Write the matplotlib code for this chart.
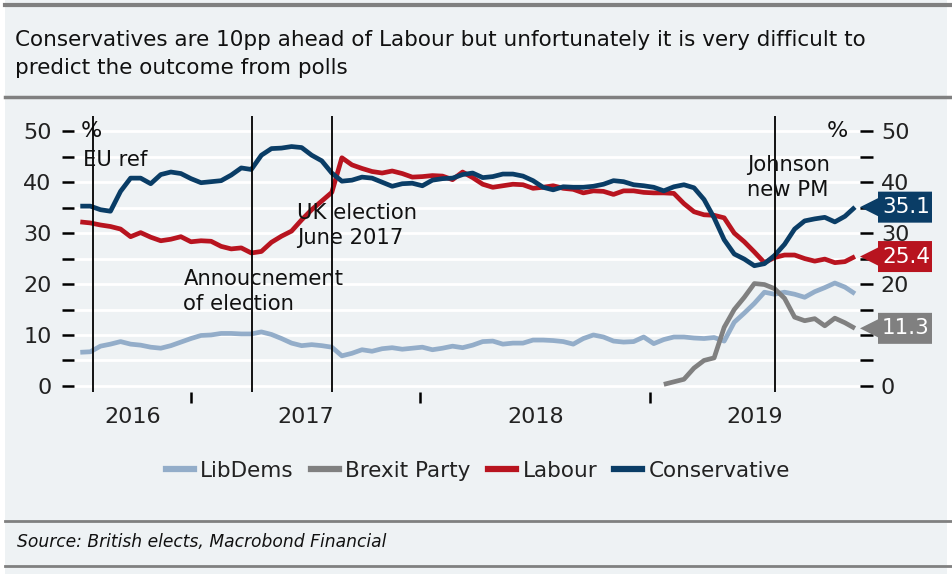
import numpy as np
import pandas as pd
import matplotlib
matplotlib.use("Agg")
import matplotlib.pyplot as plt
from matplotlib.patches import Polygon, Rectangle
from matplotlib.lines import Line2D

# ---------------- data ----------------
dates = pd.date_range("2016-07-09", periods=78, freq="16D")

conservative = [35.3, 35.3, 34.6, 34.3, 38.2, 40.8, 40.8, 39.7, 41.5, 42.0,
                41.7, 40.7, 39.9, 40.1, 40.3, 41.4, 42.8, 42.5, 45.3, 46.6,
                46.7, 47.0, 46.8, 45.3, 44.2, 41.8, 40.2, 40.4, 41.0, 40.8,
                40.0, 39.2, 39.7, 39.8, 39.3, 40.4, 40.7, 40.8, 41.5, 41.8,
                40.9, 41.1, 41.6, 41.6, 41.2, 40.3, 39.0, 38.5, 39.1, 39.0,
                39.0, 39.2, 39.6, 40.3, 40.1, 39.5, 39.3, 39.0, 38.3, 39.1,
                39.5, 38.9, 36.6, 33.0, 28.7, 25.9, 24.9, 23.6, 24.0, 25.6,
                27.8, 30.8, 32.4, 32.8, 33.1, 32.2, 33.3, 35.1]

labour = [32.2, 32.0, 31.6, 31.3, 30.8, 29.3, 30.1, 29.2, 28.5, 28.8,
          29.3, 28.3, 28.5, 28.4, 27.4, 26.9, 27.1, 26.1, 26.4, 28.2,
          29.4, 30.4, 32.6, 34.6, 36.3, 38.0, 44.8, 43.4, 42.7, 42.1,
          41.8, 42.2, 41.7, 41.0, 41.1, 41.3, 41.2, 40.5, 42.0, 40.9,
          39.6, 39.0, 39.3, 39.6, 39.5, 38.8, 39.0, 39.3, 38.8, 38.6,
          37.9, 38.3, 38.2, 37.6, 38.3, 38.3, 38.0, 37.9, 37.9, 37.8,
          35.8, 34.2, 33.6, 33.5, 33.0, 30.0, 28.3, 26.3, 24.2, 25.2,
          25.7, 25.7, 25.0, 24.5, 24.9, 24.2, 24.4, 25.4]

libdems = [6.6, 6.7, 7.8, 8.2, 8.7, 8.2, 8.0, 7.6, 7.4, 7.9,
           8.6, 9.3, 9.9, 10.0, 10.3, 10.3, 10.2, 10.2, 10.6, 10.1,
           9.3, 8.4, 7.9, 8.1, 7.9, 7.6, 5.9, 6.4, 7.1, 6.8,
           7.3, 7.5, 7.2, 7.4, 7.6, 7.1, 7.4, 7.8, 7.5, 8.0,
           8.7, 8.8, 8.2, 8.4, 8.4, 9.0, 9.0, 8.9, 8.7, 8.2,
           9.3, 10.0, 9.6, 8.8, 8.6, 8.7, 9.6, 8.3, 9.1, 9.6,
           9.6, 9.4, 9.3, 9.5, 8.8, 12.5, 14.3, 16.2, 18.4, 18.0,
           18.4, 18.0, 17.4, 18.5, 19.3, 20.2, 19.4, 18.1]

brexit = [np.nan] * 58 + [0.3, 0.8, 1.3, 3.5, 5.0, 5.5, 11.5, 15.0, 17.4, 20.1,
                          19.9, 19.1, 17.2, 13.5, 12.8, 13.2, 11.8, 13.3, 12.4, 11.3]

series_names = ["LibDems", "Brexit Party", "Labour", "Conservative"]
series_colors = ["#93adc9", "#808080", "#b8141f", "#0a3d66"]
end_labels = ["35.1", "25.4", "11.3"]

event_dates = ["2016-07-29", "2017-04-08", "2017-08-14", "2019-07-19"]
event_texts = ["EU ref", "Annoucnement\nof election", "UK election\nJune 2017", "Johnson\nnew PM"]
event_text_pos = [("2016-07-14", 44.4), ("2016-12-20", 18.5), ("2017-06-19", 31.5), ("2019-06-04", 41.0)]

year_labels = ["2016", "2017", "2018", "2019"]
left_ticks = [0, 10, 20, 30, 40, 50]
right_ticks = [0, 20, 30, 40, 50]
minor_ticks = [5, 10, 15, 25, 35, 45]

title = ("Conservatives are 10pp ahead of Labour but unfortunately it is very difficult to\n"
         "predict the outcome from polls")
source = "Source: British elects, Macrobond Financial"

# ---------------- style ----------------
BG = "#eef2f4"
W, H = 953, 574
fig = plt.figure(figsize=(W / 100, H / 100), dpi=100, facecolor="white")
plt.rcParams["font.family"] = ["DejaVu Sans"]

fig.patches.append(Rectangle((5 / W, 0), 942 / W, 1, transform=fig.transFigure,
                             facecolor=BG, edgecolor="none", zorder=-10))
for yy, lw in [(5, 3.0), (97, 2.5), (521, 2.0), (566, 2.0)]:
    fig.add_artist(Line2D([5 / W, 1], [1 - yy / H, 1 - yy / H], transform=fig.transFigure,
                          color="#808080", lw=lw))

fig.text(15 / W, 1 - 30 / H, title, ha="left", va="top", fontsize=15.5,
         color="#111111", linespacing=1.5)
fig.text(17 / W, 1 - 542 / H, source, ha="left", va="center", fontsize=12.3,
         style="italic", color="#111111")

left, right, top, bottom = 74, 860, 116, 392
ax = fig.add_axes([left / W, 1 - bottom / H, (right - left) / W, (bottom - top) / H])
ax.set_facecolor(BG)
for s in ax.spines.values():
    s.set_visible(False)

ax.set_ylim(-1.2, 53)
xmin = pd.Timestamp("2016-06-29")
xmax = pd.Timestamp("2019-12-01")
ax.set_xlim(xmin, xmax)

for v in range(0, 51, 5):
    ax.axhline(v, color="white", lw=2, zorder=0)

series = [libdems, brexit, labour, conservative]
for name, vals, col in zip(series_names, series, series_colors):
    ax.plot(dates, vals, color=col, lw=3.4, label=name, zorder=3,
            solid_joinstyle="round", solid_capstyle="butt")

for d in event_dates:
    ax.axvline(pd.Timestamp(d), color="black", lw=1.3, zorder=4)

for (d, yv), t in zip(event_text_pos, event_texts):
    ax.text(pd.Timestamp(d), yv, t, ha="left", va="center", fontsize=15.2,
            color="#111111", linespacing=1.3, zorder=5)

# y axes
ax.set_yticks(left_ticks)
ax.set_yticks(minor_ticks, minor=True)
ax.tick_params(axis="y", which="both", length=9, width=1.8, direction="out",
               labelsize=16, pad=7, colors="black", labelcolor="#222222")
ax2 = ax.twinx()
for s in ax2.spines.values():
    s.set_visible(False)
ax2.set_ylim(ax.get_ylim())
ax2.set_yticks(right_ticks)
ax2.set_yticks(minor_ticks, minor=True)
ax2.tick_params(axis="y", which="both", length=9, width=1.8, direction="out",
                labelsize=16, pad=6, colors="black", labelcolor="#222222")
ax.text(0.008, 50, "%", transform=ax.get_yaxis_transform(), ha="left", va="center",
        fontsize=16, color="#111111")
ax.text(0.985, 50, "%", transform=ax.get_yaxis_transform(), ha="right", va="center",
        fontsize=16, color="#111111")

# x axis
year_starts = [pd.Timestamp(f"{y}-01-01") for y in (2017, 2018, 2019)]
ax.set_xticks(year_starts)
ax.set_xticklabels([])
bounds = [xmin] + year_starts + [xmax]
mids = [bounds[i] + (bounds[i + 1] - bounds[i]) / 2 for i in range(4)]
ax.set_xticks(mids, minor=True)
ax.set_xticklabels(year_labels, minor=True)
ax.tick_params(axis="x", which="major", length=8, width=1.8, direction="out", colors="black")
ax.tick_params(axis="x", which="minor", length=0, labelsize=16, pad=11, labelcolor="#222222")

# end badges
badge_series = [conservative, labour, brexit]
badge_colors = [series_colors[3], series_colors[2], series_colors[1]]
for vals, col, lab in zip(badge_series, badge_colors, end_labels):
    yv = vals[-1]
    y_px = bottom - (yv - (-1.2)) / (53 - (-1.2)) * (bottom - top)
    yc = 1 - y_px / H
    hh = 15.5 / H
    x0 = 860 / W
    x1 = 878 / W
    x2 = 932 / W
    poly = Polygon([(x0, yc), (x1, yc + 9 / H), (x1, yc + hh), (x2, yc + hh),
                    (x2, yc - hh), (x1, yc - hh), (x1, yc - 9 / H)],
                   closed=True, transform=fig.transFigure, facecolor=col,
                   edgecolor="none", zorder=10)
    fig.add_artist(poly)
    fig.text((x1 + x2) / 2 + 1 / W, yc, lab, ha="center", va="center", fontsize=15.5,
             color="white", zorder=11)

# legend
handles = [Line2D([], [], color=c, lw=4.5) for c in series_colors]
fig.legend(handles, series_names, loc="center", bbox_to_anchor=(478 / W, 1 - 471 / H),
           ncol=4, frameon=False, fontsize=15.5, handlelength=1.3,
           handletextpad=0.3, columnspacing=0.8, labelcolor="#222222")

fig.savefig("out.png", dpi=100, facecolor=fig.get_facecolor())
